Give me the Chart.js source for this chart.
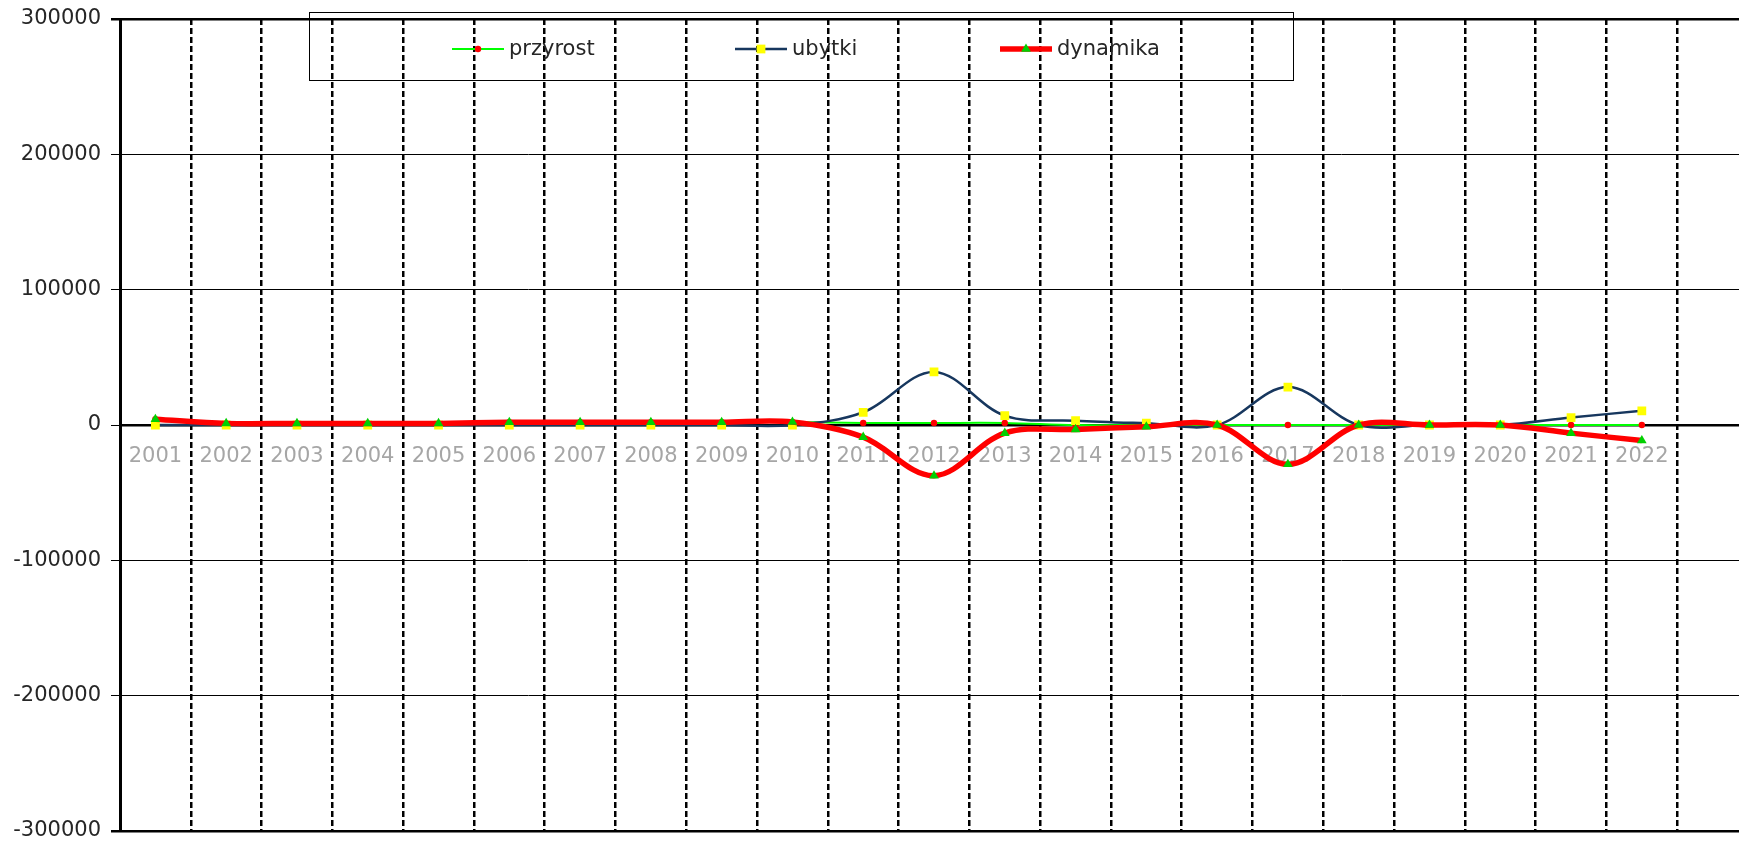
<!DOCTYPE html>
<html>
<head>
<meta charset="utf-8">
<script src="https://cdn.jsdelivr.net/npm/chart.js@4.4.0/dist/chart.umd.min.js"></script>
<style>
html,body{margin:0;padding:0;overflow:hidden;background:#fff;width:1739px;height:842px}
#wrap{position:absolute;left:0;top:0;width:1760px;height:842px}
</style>
</head>
<body>
<div id="wrap"><canvas id="c" width="1760" height="842"></canvas></div>
<script>
// ---- data ----
const categories = ['2001','2002','2003','2004','2005','2006','2007','2008','2009','2010','2011',
                    '2012','2013','2014','2015','2016','2017','2018','2019','2020','2021','2022'];
const xTickLabels = categories.concat(['']);
const przyrost = [4200, 1200, 1200, 1200, 1200, 2000, 2000, 2000, 2000, 2200, 1500,
                  1500, 1500, 0, 0, 0, 0, 0, 0, 0, 0, 0];
const ubytki   = [0, 0, 0, 0, 0, 0, 0, 0, 0, 0, 9400,
                  39200, 6900, 3200, 1300, 0, 28000, 0, 0, 0, 5500, 10500];
const dynamika = [4200, 1200, 1200, 1200, 1200, 2000, 2000, 2000, 2000, 2200, -9000,
                  -37500, -6000, -3300, -1300, 0, -29000, 0, 0, 0, -6000, -11500];
const yTickValues = [-300000, -200000, -100000, 0, 100000, 200000, 300000];
const seriesNames = ['przyrost', 'ubytki', 'dynamika'];

const FONT = 'DejaVu Sans';

function drawMarker(ctx, style, x, y, r, color) {
  ctx.fillStyle = color;
  ctx.beginPath();
  if (style === 'circle') {
    ctx.arc(x, y, r, 0, Math.PI * 2);
  } else if (style === 'rect') {
    const s = r * Math.SQRT1_2;
    ctx.rect(x - s, y - s, 2 * s, 2 * s);
  } else if (style === 'triangle') {
    ctx.moveTo(x, y - r);
    ctx.lineTo(x + r * Math.sin(2 * Math.PI / 3), y + r / 2);
    ctx.lineTo(x - r * Math.sin(2 * Math.PI / 3), y + r / 2);
    ctx.closePath();
  }
  ctx.fill();
}

const boxLegend = {
  id: 'boxLegend',
  afterDraw(chart) {
    const ctx = chart.ctx;
    ctx.save();
    ctx.strokeStyle = '#000';
    ctx.lineWidth = 1;
    ctx.strokeRect(309.5, 12.5, 984, 68);
    const starts = [452, 735, 1000];
    const y = 49;
    chart.data.datasets.forEach((ds, i) => {
      const x0 = starts[i];
      ctx.strokeStyle = ds.borderColor;
      ctx.lineWidth = ds.borderWidth;
      ctx.lineCap = 'butt';
      ctx.beginPath();
      ctx.moveTo(x0, y);
      ctx.lineTo(x0 + 52, y);
      ctx.stroke();
      drawMarker(ctx, ds.pointStyle, x0 + 26, y, ds.pointRadius, ds.pointBackgroundColor);
      ctx.fillStyle = '#262626';
      ctx.font = '21px "' + FONT + '"';
      ctx.textBaseline = 'middle';
      ctx.textAlign = 'left';
      ctx.fillText(ds.label, x0 + 57, y + 1);
    });
    ctx.restore();
  }
};

const chart = new Chart(document.getElementById('c'), {
  type: 'line',
  data: {
    labels: xTickLabels,
    datasets: [
      {
        label: seriesNames[0], data: przyrost, order: 3,
        borderColor: '#00ff00', borderWidth: 2, tension: 0.35,
        pointStyle: 'circle', pointRadius: 3.2, pointBackgroundColor: '#ff0000',
        pointBorderColor: '#ff0000', pointBorderWidth: 0
      },
      {
        label: seriesNames[1], data: ubytki, order: 2,
        borderColor: '#17375e', borderWidth: 2.5, tension: 0.35,
        pointStyle: 'rect', pointRadius: 6.2, pointBackgroundColor: '#ffff00',
        pointBorderColor: '#ffff00', pointBorderWidth: 0
      },
      {
        label: seriesNames[2], data: dynamika, order: 1,
        borderColor: '#ff0000', borderWidth: 5.5, tension: 0.35,
        pointStyle: 'triangle', pointRadius: 5.6, pointBackgroundColor: '#00d000',
        pointBorderColor: '#00d000', pointBorderWidth: 0
      }
    ]
  },
  options: {
    responsive: false,
    animation: false,
    devicePixelRatio: 1,
    layout: { padding: { left: 0, top: 19, right: 12, bottom: 11 } },
    plugins: { legend: { display: false }, tooltip: { enabled: false } },
    scales: {
      x: {
        type: 'category',
        offset: true,
        position: { y: 0 },
        afterFit: s => { s.paddingLeft = 0; s.paddingRight = 0; s.paddingTop = 0; s.paddingBottom = 0; },
        grid: { offset: true, color: '#000', lineWidth: 2.5, drawTicks: false },
        border: { display: true, color: '#000', width: 2.5, dash: [6, 3] },
        ticks: {
          color: '#a6a6a6', font: { size: 21, family: FONT }, padding: 19,
          maxRotation: 0, autoSkip: false
        }
      },
      y: {
        min: -300000, max: 300000,
        afterBuildTicks: s => { s.ticks = yTickValues.map(v => ({ value: v })); },
        afterFit: s => { s.width = 120; s.paddingTop = 0; s.paddingBottom = 0; },
        ticks: {
          stepSize: 100000, callback: v => String(v),
          color: '#262626', font: { size: 21, family: FONT }, padding: 10
        },
        grid: {
          color: '#000',
          lineWidth: c => (c.tick && Math.abs(c.tick.value) === 300000) ? 2.5 : 1,
          tickLength: 9, tickColor: '#000'
        },
        border: { display: true, color: '#000', width: 3 }
      }
    }
  },
  plugins: [boxLegend]
});
</script>
</body>
</html>
